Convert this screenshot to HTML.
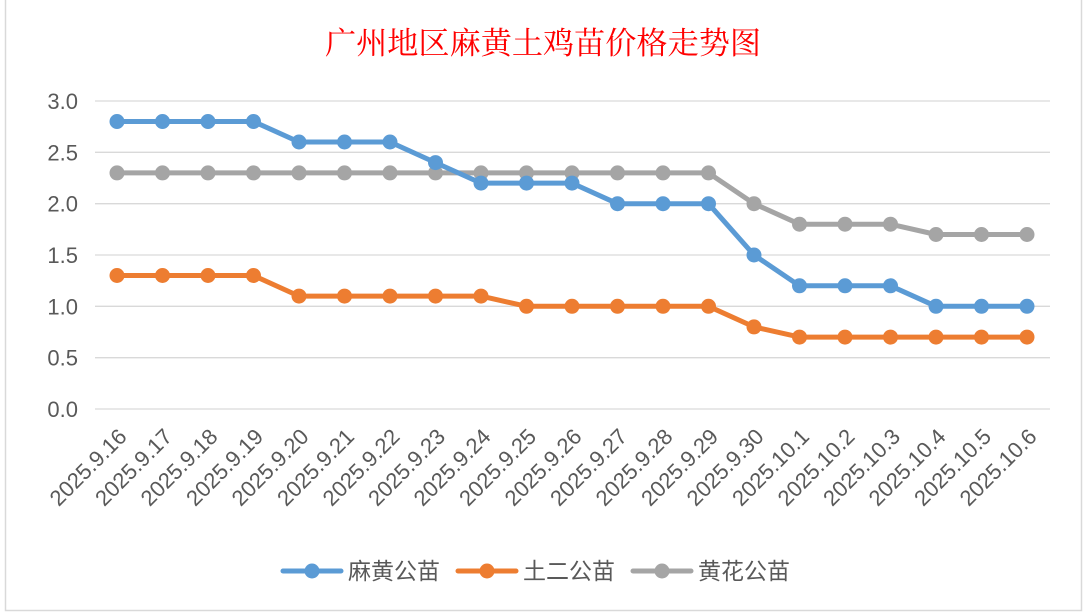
<!DOCTYPE html>
<html><head><meta charset="utf-8"><style>
html,body{margin:0;padding:0;background:#fff;width:1086px;height:614px;overflow:hidden}
</style></head><body>
<svg width="1086" height="614" viewBox="0 0 1086 614" xmlns="http://www.w3.org/2000/svg">
<defs>
<marker id="mb" markerUnits="userSpaceOnUse" markerWidth="18" markerHeight="18" refX="9" refY="9"><circle cx="9" cy="9" r="7.5" fill="#5b9bd5"/></marker>
<marker id="mo" markerUnits="userSpaceOnUse" markerWidth="18" markerHeight="18" refX="9" refY="9"><circle cx="9" cy="9" r="7.5" fill="#ed7d31"/></marker>
<marker id="mg" markerUnits="userSpaceOnUse" markerWidth="18" markerHeight="18" refX="9" refY="9"><circle cx="9" cy="9" r="7.5" fill="#a5a5a5"/></marker>
</defs>
<rect x="0" y="0" width="1086" height="614" fill="#fff"/>
<rect x="5.5" y="-2" width="1076" height="612.5" fill="none" stroke="#d9d9d9" stroke-width="1.5"/>
<text x="543" y="54" text-anchor="middle" font-family="'Liberation Serif','Noto Serif CJK SC',serif" font-size="31" fill="#ff0000" textLength="436" lengthAdjust="spacingAndGlyphs">广州地区麻黄土鸡苗价格走势图</text>
<g stroke="#d9d9d9" stroke-width="1.3">
<line x1="95" y1="101" x2="1050" y2="101"/><line x1="95" y1="152.3" x2="1050" y2="152.3"/>
<line x1="95" y1="203.7" x2="1050" y2="203.7"/><line x1="95" y1="255" x2="1050" y2="255"/>
<line x1="95" y1="306.3" x2="1050" y2="306.3"/><line x1="95" y1="357.7" x2="1050" y2="357.7"/>
<line x1="95" y1="409" x2="1050" y2="409"/>
</g>
<g font-family="'Liberation Sans','Noto Sans CJK SC',sans-serif" font-size="22" fill="#595959" text-anchor="end">
<text x="78" y="109">3.0</text><text x="78" y="160.3">2.5</text><text x="78" y="211.7">2.0</text>
<text x="78" y="263">1.5</text><text x="78" y="314.3">1.0</text><text x="78" y="365.7">0.5</text><text x="78" y="417">0.0</text>
</g>
<g font-family="'Liberation Sans',sans-serif" font-size="22" fill="#595959" text-anchor="end">
<text transform="translate(128,438) rotate(-45)">2025.9.16</text>
<text transform="translate(173.5,438) rotate(-45)">2025.9.17</text>
<text transform="translate(219,438) rotate(-45)">2025.9.18</text>
<text transform="translate(264.5,438) rotate(-45)">2025.9.19</text>
<text transform="translate(310,438) rotate(-45)">2025.9.20</text>
<text transform="translate(355.5,438) rotate(-45)">2025.9.21</text>
<text transform="translate(401,438) rotate(-45)">2025.9.22</text>
<text transform="translate(446.5,438) rotate(-45)">2025.9.23</text>
<text transform="translate(492,438) rotate(-45)">2025.9.24</text>
<text transform="translate(537.5,438) rotate(-45)">2025.9.25</text>
<text transform="translate(583,438) rotate(-45)">2025.9.26</text>
<text transform="translate(628.5,438) rotate(-45)">2025.9.27</text>
<text transform="translate(674,438) rotate(-45)">2025.9.28</text>
<text transform="translate(719.5,438) rotate(-45)">2025.9.29</text>
<text transform="translate(765,438) rotate(-45)">2025.9.30</text>
<text transform="translate(810.5,438) rotate(-45)">2025.10.1</text>
<text transform="translate(856,438) rotate(-45)">2025.10.2</text>
<text transform="translate(901.5,438) rotate(-45)">2025.10.3</text>
<text transform="translate(947,438) rotate(-45)">2025.10.4</text>
<text transform="translate(992.5,438) rotate(-45)">2025.10.5</text>
<text transform="translate(1038,438) rotate(-45)">2025.10.6</text>
</g>
<g fill="none" stroke-width="5" stroke-linejoin="round" stroke-linecap="round">
<polyline stroke="#a5a5a5" marker-start="url(#mg)" marker-mid="url(#mg)" marker-end="url(#mg)" points="117,172.9 162.5,172.9 208,172.9 253.5,172.9 299,172.9 344.5,172.9 390,172.9 435.5,172.9 481,172.9 526.5,172.9 572,172.9 617.5,172.9 663,172.9 708.5,172.9 754,203.7 799.5,224.2 845,224.2 890.5,224.2 936,234.5 981.5,234.5 1027,234.5"/>
<polyline stroke="#ed7d31" marker-start="url(#mo)" marker-mid="url(#mo)" marker-end="url(#mo)" points="117,275.5 162.5,275.5 208,275.5 253.5,275.5 299,296.1 344.5,296.1 390,296.1 435.5,296.1 481,296.1 526.5,306.3 572,306.3 617.5,306.3 663,306.3 708.5,306.3 754,326.9 799.5,337.1 845,337.1 890.5,337.1 936,337.1 981.5,337.1 1027,337.1"/>
<polyline stroke="#5b9bd5" marker-start="url(#mb)" marker-mid="url(#mb)" marker-end="url(#mb)" points="117,121.5 162.5,121.5 208,121.5 253.5,121.5 299,142 344.5,142 390,142 435.5,162.6 481,183.1 526.5,183.1 572,183.1 617.5,203.7 663,203.7 708.5,203.7 754,255 799.5,285.8 845,285.8 890.5,285.8 936,306.3 981.5,306.3 1027,306.3"/>
</g>
<g stroke-width="5" stroke-linecap="round">
<line x1="283" y1="571" x2="341" y2="571" stroke="#5b9bd5"/><circle cx="312" cy="571" r="7.5" fill="#5b9bd5"/>
<line x1="458" y1="571" x2="516" y2="571" stroke="#ed7d31"/><circle cx="487" cy="571" r="7.5" fill="#ed7d31"/>
<line x1="633" y1="571" x2="691" y2="571" stroke="#a5a5a5"/><circle cx="662" cy="571" r="7.5" fill="#a5a5a5"/>
</g>
<g font-family="'Liberation Sans','Noto Sans CJK SC',sans-serif" font-size="23" fill="#595959">
<text x="348" y="579">麻黄公苗</text><text x="523" y="579">土二公苗</text><text x="698" y="579">黄花公苗</text>
</g>
</svg>
</body></html>
